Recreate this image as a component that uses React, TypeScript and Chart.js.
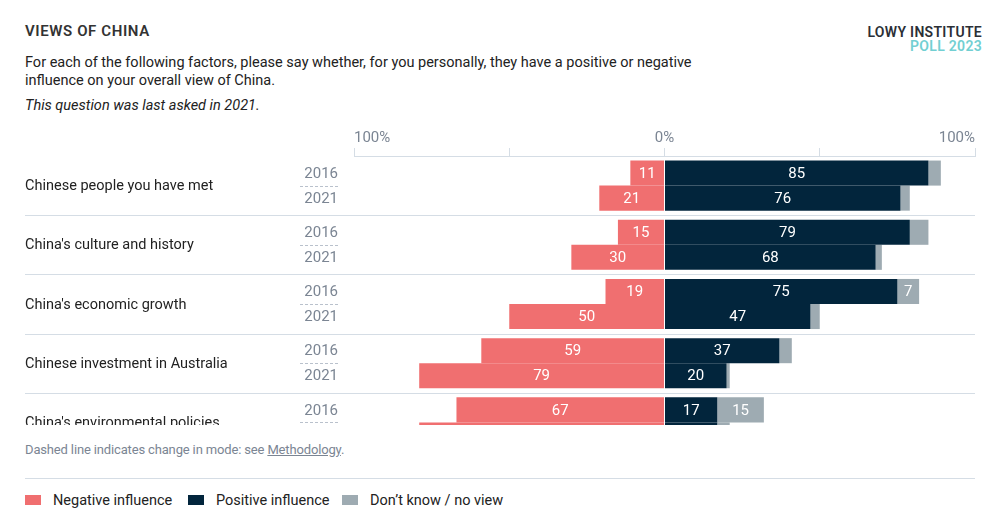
import React, { useEffect, useRef } from "react";
import { Chart, registerables } from "chart.js";

Chart.register(...registerables);

const categories = [
  "Chinese people you have met",
  "China's culture and history",
  "China's economic growth",
  "Chinese investment in Australia",
  "China's environmental policies",
];
const years = ["2016", "2021"];

const negative2016 = [11, 15, 19, 59, 67];
const positive2016 = [85, 79, 75, 37, 17];
const dontKnow2016 = [4, 6, 7, 4, 15];

const negative2021 = [21, 30, 50, 79, 79];
const positive2021 = [76, 68, 47, 20, 17];
const dontKnow2021 = [3, 2, 3, 1, 4];

const axisTicks = [-100, 0, 100];
const axisTickLabels = ["100%", "0%", "100%"];

const RED = "#f06f70";
const NAVY = "#02253c";
const GREY = "#9eabb2";
const MUTED = "#7b8593";
const LINE = "#d5dde5";
const FONT = "Roboto, 'Noto Sans', sans-serif";

const overlayPlugin = {
  id: "overlay",
  beforeDatasetsDraw(chart: any) {
    const ctx = chart.ctx;
    const y = chart.scales.y;
    ctx.save();
    ctx.strokeStyle = LINE;
    ctx.lineWidth = 1;
    for (let i = 0; i < categories.length - 1; i++) {
      const py = Math.round((y.getPixelForValue(i) + y.getPixelForValue(i + 1)) / 2) + 0.5;
      ctx.beginPath();
      ctx.moveTo(25, py);
      ctx.lineTo(975, py);
      ctx.stroke();
    }
    ctx.restore();
  },
  afterDatasetsDraw(chart: any) {
    const ctx = chart.ctx;
    const x = chart.scales.x;
    const y = chart.scales.y;
    ctx.save();
    // axis labels
    ctx.font = `15px ${FONT}`;
    ctx.fillStyle = MUTED;
    ctx.textBaseline = "middle";
    axisTicks.forEach((v, i) => {
      const px = x.getPixelForValue(v);
      ctx.textAlign = i === 0 ? "left" : i === axisTicks.length - 1 ? "right" : "center";
      ctx.fillText(axisTickLabels[i], px, chart.chartArea.top - 18);
    });
    // category labels, year labels, dashed line
    categories.forEach((c, i) => {
      const cy = y.getPixelForValue(i);
      ctx.fillStyle = "#222";
      ctx.textAlign = "left";
      ctx.font = `14.5px ${FONT}`;
      ctx.fillText(c, 25, cy + 1);
      ctx.font = `15px ${FONT}`;
      ctx.fillStyle = MUTED;
      ctx.textAlign = "right";
      const b1 = chart.getDatasetMeta(0).data[i];
      const b2 = chart.getDatasetMeta(3).data[i];
      ctx.fillText(years[0], 338, b1.y + 1);
      ctx.fillText(years[1], 338, b2.y + 1);
      ctx.strokeStyle = "#b9c1cc";
      ctx.setLineDash([3, 2]);
      ctx.beginPath();
      ctx.moveTo(300, Math.round(cy) + 0.5);
      ctx.lineTo(340, Math.round(cy) + 0.5);
      ctx.stroke();
      ctx.setLineDash([]);
    });
    // value labels
    ctx.font = `15px ${FONT}`;
    ctx.fillStyle = "#fff";
    ctx.textAlign = "center";
    chart.data.datasets.forEach((ds: any, di: number) => {
      const meta = chart.getDatasetMeta(di);
      meta.data.forEach((el: any, j: number) => {
        const v = Math.abs(ds.data[j]);
        if (v < 7) return;
        const p = el.getProps(["x", "y", "base"], true);
        ctx.fillText(String(v), (p.x + p.base) / 2, p.y + 1);
      });
    });
    ctx.restore();
  },
};

function ChartView() {
  const ref = useRef<HTMLCanvasElement>(null);
  useEffect(() => {
    if (!ref.current) return;
    const mk = (label: string, data: number[], color: string, stack: string) => ({
      label,
      data,
      backgroundColor: color,
      borderWidth: 0,
      stack,
      barPercentage: 1,
      categoryPercentage: 50 / 59.1,
    });
    const chart = new Chart(ref.current, {
      type: "bar",
      data: {
        labels: categories,
        datasets: [
          mk("Negative influence 2016", negative2016.map((v) => -v), RED, "s2016"),
          mk("Positive influence 2016", positive2016, NAVY, "s2016"),
          mk("Don't know 2016", dontKnow2016, GREY, "s2016"),
          mk("Negative influence 2021", negative2021.map((v) => -v), RED, "s2021"),
          mk("Positive influence 2021", positive2021, NAVY, "s2021"),
          mk("Don't know 2021", dontKnow2021, GREY, "s2021"),
        ],
      },
      options: {
        indexAxis: "y",
        responsive: false,
        animation: false,
        events: [],
        layout: { padding: { left: 354, right: 25, top: 28, bottom: 13 } },
        plugins: { legend: { display: false }, tooltip: { enabled: false } },
        scales: {
          x: {
            position: "top",
            min: -100,
            max: 100,
            stacked: true,
            ticks: { stepSize: 50, display: false },
            grid: { drawOnChartArea: false, drawTicks: true, tickLength: 8, color: LINE },
            border: { display: true, color: LINE },
          },
          y: { display: false, stacked: true },
        },
      },
      plugins: [overlayPlugin],
    } as any);
    return () => chart.destroy();
  }, []);
  return <canvas ref={ref} width={1000} height={345} style={{ width: 1000, height: 345, display: "block" }} />;
}

const abs = (top: number, left: number, extra: any = {}) => ({
  position: "absolute" as const,
  top,
  left,
  ...extra,
});

export default function App() {
  const legend = [
    { label: "Negative influence", color: RED, x: 25, tx: 53 },
    { label: "Positive influence", color: NAVY, x: 188, tx: 216 },
    { label: "Don\u2019t know / no view", color: GREY, x: 342, tx: 370 },
  ];
  return (
    <div style={{ position: "absolute", left: 0, top: 0, width: 1000, height: 525, background: "#fff", fontFamily: FONT, overflow: "hidden" }}>
      <div style={abs(23, 25, { fontSize: 15, lineHeight: "17px", fontWeight: 600, color: "#333", letterSpacing: 0.6 })}>VIEWS OF CHINA</div>
      <div style={{ position: "absolute", top: 25, right: 18, textAlign: "right", fontSize: 14, lineHeight: "14px", fontWeight: 600, letterSpacing: 0.3 }}>
        <div style={{ color: "#2b2f36" }}>LOWY INSTITUTE</div>
        <div style={{ color: "#72cfd2" }}>POLL 2023</div>
      </div>
      <div style={abs(54, 25, { fontSize: 14.5, lineHeight: "18px", color: "#222" })}>
        For each of the following factors, please say whether, for you personally, they have a positive or negative
        <br />
        influence on your overall view of China.
      </div>
      <div style={abs(97, 25, { fontSize: 14.5, lineHeight: "18px", color: "#222", fontStyle: "italic" })}>
        This question was last asked in 2021.
      </div>
      <div style={abs(120, 0, { width: 1000, height: 305, overflow: "hidden" })}>
        <ChartView />
      </div>
      <div style={abs(441, 25, { fontSize: 13, lineHeight: "18px", color: MUTED, letterSpacing: -0.15 })}>
        Dashed line indicates change in mode: see <span style={{ textDecoration: "underline" }}>Methodology</span>.
      </div>
      <div style={abs(478, 25, { width: 950, height: 1, background: LINE })} />
      {legend.map((l) => (
        <React.Fragment key={l.label}>
          <div style={abs(495, l.x, { width: 16, height: 10, background: l.color })} />
          <div style={abs(492, l.tx, { fontSize: 14.5, lineHeight: "18px", color: "#222", whiteSpace: "nowrap" })}>{l.label}</div>
        </React.Fragment>
      ))}
    </div>
  );
}
